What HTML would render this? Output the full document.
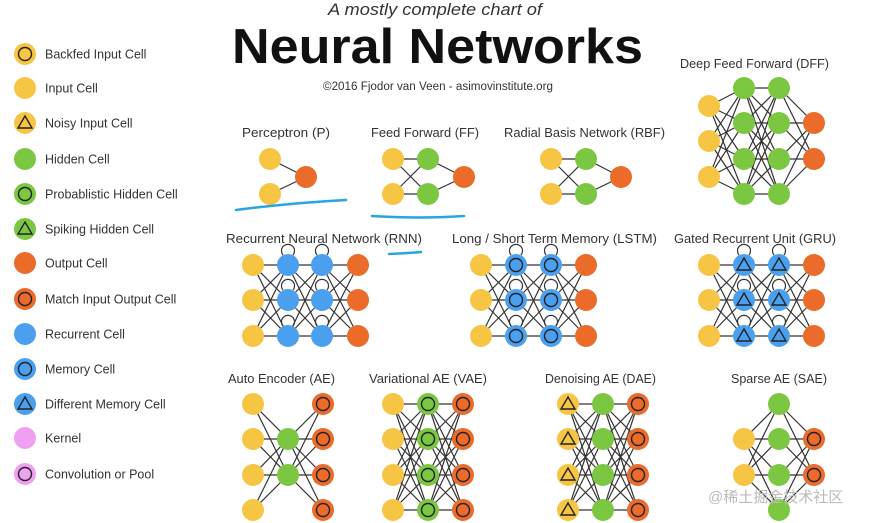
<!DOCTYPE html>
<html><head><meta charset="utf-8"><style>body{margin:0;background:#fff}svg{display:block}text{font-family:"Liberation Sans","Noto Sans CJK SC",sans-serif;fill:#333}</style></head><body>
<svg id="s" width="886" height="523" xmlns="http://www.w3.org/2000/svg">
<text x="435" y="15" font-size="17" font-style="italic" text-anchor="middle" textLength="214" lengthAdjust="spacingAndGlyphs">A mostly complete chart of</text>
<text x="232" y="63" font-size="49" font-weight="bold" fill="#111" style="fill:#111" textLength="411" lengthAdjust="spacingAndGlyphs">Neural Networks</text>
<text x="323" y="90" font-size="11.5" textLength="230" lengthAdjust="spacingAndGlyphs">©2016 Fjodor van Veen - asimovinstitute.org</text>
<g id="lines" stroke="#333" stroke-width="1.2" fill="none"></g>
<g id="nodes"></g>
<g id="labels" font-size="12.5"></g>
<g fill="none" stroke="#2aa4e0" stroke-width="2.5" stroke-linecap="round">
<path d="M236 210 Q290 203 346 200"/>
<path d="M372 216 Q420 219 464 216"/>
<path d="M389 254 Q410 253 421 252"/>
</g>
<text x="708" y="502" font-size="15" style="fill:#bbb">@稀土掘金技术社区</text>
</svg>
<script>
const NS="http://www.w3.org/2000/svg",C={y:"#f7c544",g:"#7cc742",o:"#eb6b2b",b:"#4aa0ef",p:"#f0a0f0"};
const L=document.getElementById('lines'),N=document.getElementById('nodes'),T=document.getElementById('labels');
function el(p,t,a){const e=document.createElementNS(NS,t);for(const k in a)e.setAttribute(k,a[k]);p.appendChild(e);return e}
function node(x,y,c,m,loop){
 if(loop) el(L,'path',{d:`M${x-5} ${y-10} A6.5 6.5 0 1 1 ${x+5} ${y-10}`});
 el(N,'circle',{cx:x,cy:y,r:11,fill:C[c]});
 if(m=='c') el(N,'circle',{cx:x,cy:y,r:6.5,fill:'none',stroke:'#222','stroke-width':1.4});
 if(m=='t') el(N,'path',{d:`M${x} ${y-7} L${x+7} ${y+5} L${x-7} ${y+5} Z`,fill:'none',stroke:'#222','stroke-width':1.4});
}
function txt(x,y,s,w){const t=el(T,'text',{x,y});t.textContent=s;if(w){t.setAttribute('textLength',w);t.setAttribute('lengthAdjust','spacingAndGlyphs')}}
const leg=[["y","c","Backfed Input Cell"],["y","","Input Cell"],["y","t","Noisy Input Cell"],["g","","Hidden Cell"],["g","c","Probablistic Hidden Cell"],["g","t","Spiking Hidden Cell"],["o","","Output Cell"],["o","c","Match Input Output Cell"],["b","","Recurrent Cell"],["b","c","Memory Cell"],["b","t","Different Memory Cell"],["p","","Kernel"],["p","c","Convolution or Pool"]];
const ly=[54,88,123,159,194,229,263,299,334,369,404,438,474];
leg.forEach((l,i)=>{node(25,ly[i],l[0],l[1]);txt(45,ly[i]+4.5,l[2])});
function net(layers){
 for(let i=0;i<layers.length-1;i++){const a=layers[i],b=layers[i+1];
  a[1].forEach(y1=>b[1].forEach(y2=>el(L,'line',{x1:a[0],y1,x2:b[0],y2})));}
 layers.forEach(l=>l[1].forEach(y=>node(l[0],y,l[2],l[3]||'',l[4])));
}
const r2=[159,194],r3=[265,300,336],r4=[404,439,475,510],m2=[439,475];
net([[270,r2,'y'],[306,[177],'o']]);
net([[393,r2,'y'],[428,r2,'g'],[464,[177],'o']]);
net([[551,r2,'y'],[586,r2,'g'],[621,[177],'o']]);
net([[709,[106,141,177],'y'],[744,[88,123,159,194],'g'],[779,[88,123,159,194],'g'],[814,[123,159],'o']]);
net([[253,r3,'y'],[288,r3,'b','',1],[322,r3,'b','',1],[358,r3,'o']]);
net([[481,r3,'y'],[516,r3,'b','c',1],[551,r3,'b','c',1],[586,r3,'o']]);
net([[709,r3,'y'],[744,r3,'b','t',1],[779,r3,'b','t',1],[814,r3,'o']]);
net([[253,r4,'y'],[288,m2,'g'],[323,r4,'o','c']]);
net([[393,r4,'y'],[428,r4,'g','c'],[463,r4,'o','c']]);
net([[568,r4,'y','t'],[603,r4,'g'],[638,r4,'o','c']]);
net([[744,m2,'y'],[779,r4,'g'],[814,m2,'o','c']]);
txt(242,137,"Perceptron (P)",88);txt(371,137,"Feed Forward (FF)",108);txt(504,137,"Radial Basis Network (RBF)",161);
txt(680,68,"Deep Feed Forward (DFF)",149);txt(226,243,"Recurrent Neural Network (RNN)",196);
txt(452,243,"Long / Short Term Memory (LSTM)",205);txt(674,243,"Gated Recurrent Unit (GRU)",162);
txt(228,383,"Auto Encoder (AE)",107);txt(369,383,"Variational AE (VAE)",118);txt(545,383,"Denoising AE (DAE)",111);txt(731,383,"Sparse AE (SAE)",96);
</script>
</body></html>
